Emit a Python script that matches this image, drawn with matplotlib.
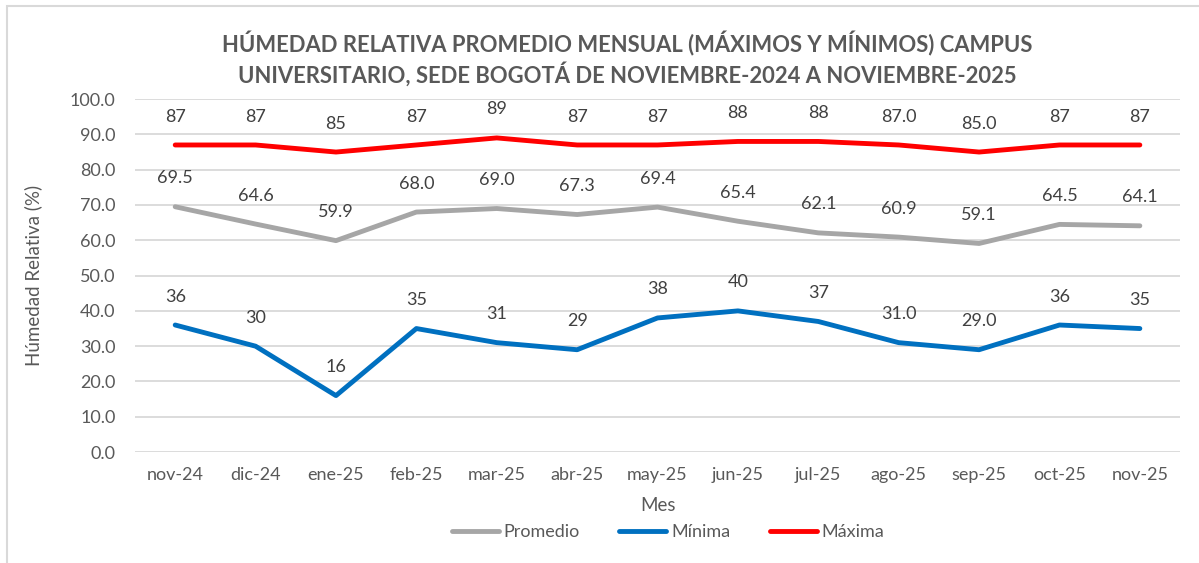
import matplotlib.pyplot as plt
from matplotlib.patches import Rectangle

plt.rcParams["font.family"] = ["Lato", "DejaVu Sans"]

# Monthly relative humidity data
meses = ["nov-24", "dic-24", "ene-25", "feb-25", "mar-25", "abr-25", "may-25",
         "jun-25", "jul-25", "ago-25", "sep-25", "oct-25", "nov-25"]
promedio = [69.5, 64.6, 59.9, 68.0, 69.0, 67.3, 69.4, 65.4, 62.1, 60.9, 59.1, 64.5, 64.1]
minima = [36, 30, 16, 35, 31, 29, 38, 40, 37, 31, 29, 36, 35]
maxima = [87, 87, 85, 87, 89, 87, 87, 88, 88, 87, 85, 87, 87]
etiq_prom = ["%.1f" % v for v in promedio]
etiq_min = ["36", "30", "16", "35", "31", "29", "38", "40", "37", "31.0", "29.0", "36", "35"]
etiq_max = ["87", "87", "85", "87", "89", "87", "87", "88", "88", "87.0", "85.0", "87", "87"]

txt = "#404040"
fig = plt.figure(figsize=(11.99, 5.63), dpi=100)
ax = fig.add_axes([0.1126, 0.197, 0.8716, 0.627])

# outer chart border
fig.patches.append(Rectangle((7 / 1199, -0.1), 1.2, 1 - 6 / 563 + 0.1, transform=fig.transFigure,
                             fill=False, edgecolor="#D9D9D9", lw=1.5))

x = list(range(len(meses)))
series = [(promedio, etiq_prom, "#A6A6A6", "Promedio"),
          (minima, etiq_min, "#0070C0", "Mínima"),
          (maxima, etiq_max, "#FF0000", "Máxima")]
for vals, labs, col, name in series:
    ax.plot(x, vals, color=col, lw=3.5, label=name, solid_capstyle="round", solid_joinstyle="round")
    for xi, v, s in zip(x, vals, labs):
        ax.annotate(s, (xi, v), xytext=(0, 20.5), textcoords="offset points",
                    ha="center", va="center", fontsize=13, color=txt)

ax.set_xlim(-0.5, 12.5)
ax.set_ylim(0, 100)
ax.set_yticks(range(0, 101, 10))
ax.set_yticklabels(["%.1f" % v for v in range(0, 101, 10)])
ax.set_xticks(x)
ax.set_xticklabels(meses)
ax.tick_params(length=0, labelsize=13, labelcolor="#595959", pad=14)
ax.tick_params(axis="x", pad=11)
ax.grid(axis="y", color="#D9D9D9", lw=1.3)
ax.set_axisbelow(True)
for s in ax.spines.values():
    s.set_visible(False)

ax.set_xlabel("Mes", fontsize=13.5, color="#595959", labelpad=10)
ax.set_ylabel("Húmedad Relativa (%)", fontsize=13.5, color="#595959", labelpad=20)

fig.text(627 / 1199, 1 - 59 / 563,
         "HÚMEDAD RELATIVA PROMEDIO MENSUAL (MÁXIMOS Y MÍNIMOS) CAMPUS\n"
         "UNIVERSITARIO, SEDE BOGOTÁ DE NOVIEMBRE-2024 A NOVIEMBRE-2025",
         ha="center", va="center", fontsize=15.8, fontweight="bold", color="#595959",
         linespacing=1.3)

fig.legend(loc="center", bbox_to_anchor=(668 / 1199, 1 - 532 / 563), ncol=3, frameon=False,
           fontsize=13, labelcolor="#595959", handlelength=2.6, handletextpad=0.25,
           columnspacing=2.2)

fig.savefig("out.png", dpi=100)
